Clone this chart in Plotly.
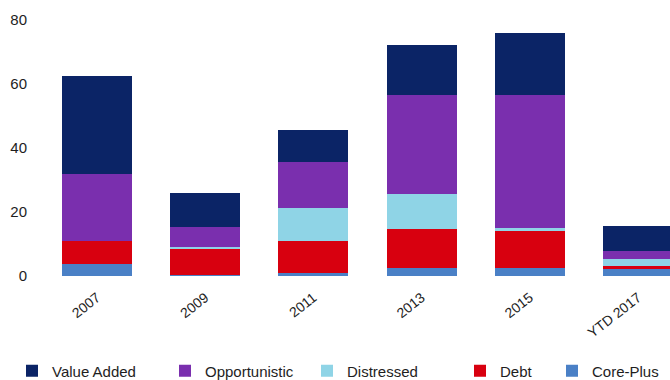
import plotly.graph_objects as go

# Fund capital raised by strategy (stacked bars)
years = ["2007", "2009", "2011", "2013", "2015", "YTD 2017"]

core_plus = [3.75, 0.3, 0.8, 2.6, 2.6, 2.1]
debt = [7.25, 8.0, 10.2, 12.1, 11.5, 1.1]
distressed = [0.0, 0.9, 10.2, 10.8, 1.0, 2.0]
opportunistic = [20.9, 6.0, 14.3, 31.1, 41.5, 2.7]
value_added = [30.6, 10.8, 10.1, 15.6, 19.4, 7.8]

y_ticks = [0, 20, 40, 60, 80]

# stacked bottom to top
series = [
    ("Core-Plus", core_plus, "#4a80c6", "legend5"),
    ("Debt", debt, "#d8000f", "legend4"),
    ("Distressed", distressed, "#8fd4e6", "legend3"),
    ("Opportunistic", opportunistic, "#7a2fae", "legend2"),
    ("Value Added", value_added, "#0b2466", "legend"),
]

FONT = "Liberation Sans, Arial, sans-serif"
TEXT = "#1e1e1e"
W, H = 670, 380

fig = go.Figure()
for name, vals, color, leg in series:
    fig.add_trace(go.Bar(
        x=years, y=vals, name=name,
        marker=dict(color=color, line=dict(width=0)),
        legend=leg, showlegend=True,
    ))

# plot area in pixels: x from 43 to the right window edge, y from 20 to 276
plot_left, plot_top, plot_bottom = 43, 20, 276

legend_text_starts = {"legend": 52, "legend2": 205, "legend3": 347,
                      "legend4": 500, "legend5": 592}
legend_common = dict(orientation="h", yanchor="middle", y=(H - 371) / H,
                     xanchor="left", bgcolor="rgba(0,0,0,0)",
                     font=dict(family=FONT, size=15, color=TEXT),
                     itemwidth=30)
legend_layout = {}
for key, tx in legend_text_starts.items():
    legend_layout[key] = dict(legend_common, x=(tx - 40) / W)

fig.update_layout(
    width=W, height=H,
    showlegend=True,
    margin=dict(l=0, r=0, t=0, b=0, autoexpand=False),
    barmode="stack",
    bargap=0.353,
    plot_bgcolor="white",
    paper_bgcolor="white",
    font=dict(family=FONT, color=TEXT),
    xaxis=dict(
        domain=[plot_left / W, 1],
        range=[-0.5, 5.296],
        showgrid=False, showline=False, zeroline=False,
        tickangle=-38,
        tickfont=dict(family=FONT, size=14, color=TEXT),
        ticklabelstandoff=10,
        automargin=False,
    ),
    yaxis=dict(
        domain=[(H - plot_bottom) / H, (H - plot_top) / H],
        range=[0, 80], tickvals=y_ticks,
        showgrid=False, showline=False, zeroline=False,
        tickfont=dict(family=FONT, size=15, color=TEXT),
        ticklabelstandoff=15,
        automargin=False,
    ),
    **legend_layout,
)

fig.write_html("out.html")
